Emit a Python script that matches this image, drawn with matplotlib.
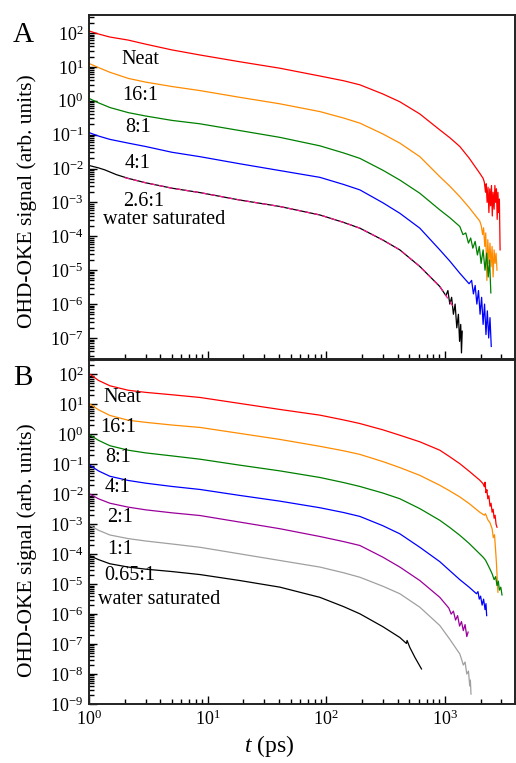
import numpy as np
import matplotlib
matplotlib.use("Agg")
import matplotlib.pyplot as plt
from matplotlib.ticker import LogLocator, NullFormatter

plt.rcParams['font.family'] = ['Liberation Serif', 'DejaVu Serif']
plt.rcParams['mathtext.fontset'] = 'custom'
plt.rcParams['mathtext.rm'] = 'Liberation Serif'
plt.rcParams['mathtext.it'] = 'Liberation Serif:italic'
plt.rcParams['mathtext.default'] = 'regular'

# ---------------- Panel A data (t in ps, log10 of signal) ----------------
A_neat_t = [1, 1.2, 1.5, 2.14, 3, 5, 8.61, 18.7, 40.6, 88.3, 140, 192, 300, 417, 615, 906, 1100, 1336, 1600, 1968, 2100,
            2150, 2200, 2230, 2270, 2310, 2350, 2390, 2430, 2470, 2510, 2550, 2600, 2640, 2680, 2720, 2760, 2800, 2840, 2880, 2920]
A_neat_y = [2.06, 1.97, 1.88, 1.79, 1.67, 1.50, 1.35, 1.15, 0.96, 0.73, 0.59, 0.47, 0.20, -0.03, -0.39, -0.86, -1.09, -1.35, -1.69, -2.14, -2.29,
            -2.4, -2.7, -2.45, -3.0, -2.55, -3.3, -2.6, -3.1, -2.5, -3.4, -2.7, -3.2, -2.5, -3.0, -2.6, -3.5, -2.7, -3.3, -2.9, -4.4]

A_16_t = [1, 1.2, 1.5, 2.14, 3, 5, 8.61, 18.7, 40.6, 88.3, 140, 192, 300, 417, 615, 906, 1100, 1336, 1600, 1968,
          2030, 2080, 2120, 2170, 2210, 2260, 2300, 2350, 2400, 2450, 2500, 2550, 2600, 2650, 2700, 2750]
A_16_y = [1.10, 0.98, 0.84, 0.66, 0.55, 0.42, 0.30, 0.10, -0.09, -0.32, -0.51, -0.66, -0.98, -1.25, -1.65, -2.24, -2.52, -2.83, -3.15, -3.55,
          -3.7, -3.95, -3.75, -4.3, -3.9, -5.3, -4.1, -4.8, -4.2, -4.9, -4.3, -5.2, -4.4, -4.8, -4.5, -5.0]

A_8_t = [1, 1.2, 1.5, 2.14, 3, 5, 8.61, 18.7, 40.6, 88.3, 140, 192, 300, 417, 615, 906, 1100, 1336,
         1420, 1500, 1580, 1650, 1720, 1800, 1880, 1950, 2020, 2100, 2180, 2250, 2320, 2380, 2440]
A_8_y = [0.07, -0.06, -0.20, -0.35, -0.45, -0.58, -0.68, -0.88, -1.08, -1.33, -1.54, -1.70, -2.05, -2.34, -2.73, -3.22, -3.45, -3.71,
         -3.95, -3.9, -4.2, -4.05, -4.35, -4.15, -4.55, -4.3, -4.8, -4.4, -5.0, -4.5, -5.2, -4.7, -5.67]

A_4_t = [1, 1.2, 1.5, 2.14, 3, 5, 8.61, 18.7, 40.6, 88.3, 140, 192, 300, 417, 615, 906, 1100, 1336, 1600,
         1680, 1740, 1800, 1860, 1920, 1980, 2040, 2100, 2160, 2220, 2280, 2340, 2400, 2460]
A_4_y = [-0.94, -1.04, -1.14, -1.25, -1.35, -1.52, -1.65, -1.86, -2.06, -2.26, -2.47, -2.63, -3.01, -3.32, -3.76, -4.40, -4.73, -5.09, -5.40,
         -5.3, -5.7, -5.45, -6.0, -5.6, -6.3, -5.8, -6.6, -6.0, -6.9, -6.2, -7.0, -6.4, -7.25]

A_26_t = [1, 1.2, 1.36, 1.7, 2.14, 3, 5, 8.61, 18.7, 40.6, 88.3, 140, 192, 300, 417, 615, 906, 1020,
          1060, 1100, 1140, 1180, 1220, 1260, 1300, 1330, 1360, 1380, 1400]
A_26_y = [-1.91, -1.98, -2.04, -2.18, -2.29, -2.42, -2.58, -2.71, -2.93, -3.12, -3.37, -3.59, -3.76, -4.11, -4.40, -4.89, -5.48, -5.75,
          -5.6, -6.0, -5.8, -6.3, -6.0, -6.7, -6.3, -7.1, -6.6, -7.44, -6.8]

A_fit_t = [2.0, 3, 5, 8.61, 18.7, 40.6, 88.3, 140, 192, 300, 417, 615, 906, 1173]
A_fit_y = [-2.27, -2.42, -2.58, -2.71, -2.93, -3.12, -3.37, -3.59, -3.76, -4.11, -4.40, -4.89, -5.48, -6.07]

# ---------------- Panel B data ----------------
B_neat_t = [1, 1.2, 1.5, 2.14, 3, 5, 8.61, 18.7, 40.6, 88.3, 140, 192, 300, 417, 615, 906, 1100, 1336, 1600, 1968, 2100,
            2150, 2180, 2220, 2260, 2300, 2350, 2400, 2450, 2500, 2550, 2600, 2650, 2700, 2750]
B_neat_y = [2.03, 1.80, 1.62, 1.47, 1.40, 1.32, 1.23, 1.03, 0.83, 0.64, 0.48, 0.36, 0.15, -0.03, -0.25, -0.53, -0.75, -0.98, -1.23, -1.53, -1.65,
            -1.75, -1.6, -1.95, -1.85, -2.15, -2.05, -2.4, -2.3, -2.6, -2.5, -2.8, -2.7, -3.0, -3.1]

B_16_t = [1, 1.2, 1.5, 2.14, 3, 5, 8.61, 18.7, 40.6, 88.3, 140, 192, 300, 417, 615, 906, 1100, 1336, 1600, 1968,
          2150, 2200, 2300, 2400, 2500, 2560, 2620, 2680, 2720, 2760, 2800]
B_16_y = [1.03, 0.82, 0.63, 0.47, 0.40, 0.31, 0.23, 0.03, -0.17, -0.40, -0.55, -0.67, -0.91, -1.11, -1.37, -1.70, -1.89, -2.09, -2.31, -2.60,
          -2.7, -2.65, -2.85, -2.95, -3.15, -3.45, -3.35, -3.9, -4.3, -4.8, -5.27]

B_8_t = [1, 1.2, 1.5, 2.14, 3, 5, 8.61, 18.7, 40.6, 88.3, 140, 192, 300, 417, 615, 906, 1100, 1336, 1600, 1968, 2100,
         2200, 2300, 2400, 2500, 2600, 2680, 2750, 2820, 2880, 2960, 3030]
B_8_y = [0.00, -0.20, -0.38, -0.53, -0.62, -0.72, -0.83, -1.03, -1.22, -1.44, -1.61, -1.74, -1.96, -2.15, -2.48, -2.87, -3.11, -3.37, -3.64, -3.99, -4.10,
         -4.2, -4.35, -4.5, -4.65, -4.85, -4.75, -5.05, -4.9, -5.2, -5.1, -5.36]

B_4_t = [1, 1.2, 1.5, 2.14, 3, 5, 8.61, 18.7, 40.6, 88.3, 140, 192, 300, 417, 615, 906, 1100, 1336, 1600, 1846,
         1900, 1950, 2000, 2060, 2120, 2180, 2220, 2250]
B_4_y = [-1.01, -1.22, -1.40, -1.54, -1.63, -1.74, -1.84, -2.04, -2.23, -2.45, -2.61, -2.74, -3.05, -3.32, -3.77, -4.25, -4.55, -4.85, -5.10, -5.32,
         -5.25, -5.5, -5.4, -5.7, -5.5, -5.85, -5.65, -6.05]

B_2_t = [1, 1.2, 1.5, 2.14, 3, 5, 8.61, 18.7, 40.6, 88.3, 140, 192, 300, 417, 615, 906, 1080,
         1130, 1180, 1230, 1280, 1330, 1380, 1430, 1480, 1530, 1570]
B_2_y = [-1.98, -2.15, -2.30, -2.43, -2.52, -2.62, -2.71, -2.93, -3.15, -3.41, -3.58, -3.71, -4.10, -4.43, -4.88, -5.44, -5.80,
         -6.0, -5.9, -6.2, -6.05, -6.4, -6.25, -6.55, -6.35, -6.75, -6.6]

B_1_t = [1, 1.2, 1.5, 2.14, 3, 5, 8.61, 18.7, 40.6, 88.3, 140, 192, 300, 417, 615, 906, 1100, 1336,
         1380, 1430, 1480, 1530, 1580, 1620, 1640, 1660]
B_1_y = [-3.02, -3.20, -3.36, -3.48, -3.56, -3.66, -3.77, -3.99, -4.21, -4.43, -4.62, -4.77, -5.07, -5.32, -5.77, -6.38, -6.84, -7.33,
         -7.5, -7.7, -7.6, -8.0, -7.9, -8.4, -8.2, -8.67]

B_065_t = [1, 1.2, 1.5, 2.14, 3, 5, 8.61, 18.7, 40.6, 88.3, 140, 192, 300, 417, 474, 480, 506, 560, 635]
B_065_y = [-4.04, -4.18, -4.32, -4.43, -4.50, -4.58, -4.68, -4.88, -5.10, -5.44, -5.75, -5.99, -6.42, -6.78, -6.98, -6.88, -7.11, -7.45, -7.83]

A_labels = ["Neat", "16:1", "8:1", "4:1", "2.6:1", "water saturated"]
B_labels = ["Neat", "16:1", "8:1", "4:1", "2:1", "1:1", "0.65:1", "water saturated"]

C_RED, C_ORG, C_GRN, C_BLU, C_BLK = '#ff0000', '#ff8c00', '#008000', '#0000ff', '#000000'
C_PINK, C_PUR, C_GRY = '#ff1493', '#9b009b', '#a0a0a0'

W, H = 516, 763
fig = plt.figure(figsize=(W / 100, H / 100), dpi=100)

def px_axes(x0, y0, x1, y1):
    return fig.add_axes([x0 / W, 1 - y1 / H, (x1 - x0) / W, (y1 - y0) / H])

axA = px_axes(89, 15, 515, 359)
axB = px_axes(89, 360, 515, 704)

def P(ax, t, y, c, **kw):
    ax.plot(t, 10 ** np.asarray(y), color=c, lw=0.9, **kw)

P(axA, A_neat_t, A_neat_y, C_RED)
P(axA, A_16_t, A_16_y, C_ORG)
P(axA, A_8_t, A_8_y, C_GRN)
P(axA, A_4_t, A_4_y, C_BLU)
P(axA, A_26_t, A_26_y, C_BLK)
P(axA, A_fit_t, A_fit_y, C_PINK, ls=(0, (4, 3)))

P(axB, B_neat_t, B_neat_y, C_RED)
P(axB, B_16_t, B_16_y, C_ORG)
P(axB, B_8_t, B_8_y, C_GRN)
P(axB, B_4_t, B_4_y, C_BLU)
P(axB, B_2_t, B_2_y, C_PUR)
P(axB, B_1_t, B_1_y, C_GRY)
P(axB, B_065_t, B_065_y, C_BLK)

for ax in (axA, axB):
    ax.set_xscale('log')
    ax.set_yscale('log')
    ax.set_xlim(1, 3900)
    ax.tick_params(which='both', direction='in', top=False, right=False, labelsize=13, width=1, colors='black', pad=4)
    ax.tick_params(which='major', length=6)
    ax.tick_params(which='minor', length=3.5)
    ax.xaxis.set_minor_locator(LogLocator(base=10, subs=np.arange(2, 10), numticks=20))
    ax.yaxis.set_minor_locator(LogLocator(base=10, subs=np.arange(2, 10), numticks=30))
    ax.yaxis.set_minor_formatter(NullFormatter())
    ax.xaxis.set_minor_formatter(NullFormatter())
    for s in ax.spines.values():
        s.set_linewidth(1.4)
        s.set_color('#222222')

axA.set_ylim(10 ** -7.62, 10 ** 2.53)
axA.set_yticks([10.0 ** k for k in range(-7, 3)])
axA.tick_params(axis='x', labelbottom=False)

axB.set_ylim(10 ** -9.0, 10 ** 2.48)
axB.set_yticks([10.0 ** k for k in range(-9, 3)])
axB.set_xticks([1, 10, 100, 1000])

fs = 14.5
def lab(x, y, s):
    fig.text(x / W, 1 - y / H, s, ha='center', va='center', fontsize=fs)

for (x, y), s in zip([(140, 59), (140, 95), (138, 128), (138, 163), (144, 201), (164, 220)], A_labels):
    lab(x, y, s)
for (x, y), s in zip([(122, 397), (118, 427), (118, 457), (118, 487), (120, 517), (120, 550), (130, 575), (159, 600)], B_labels):
    lab(x, y, s)

fig.text(23 / W, 1 - 35 / H, 'A', fontsize=21, ha='center', va='center')
fig.text(23 / W, 1 - 378 / H, 'B', fontsize=21, ha='center', va='center')
fig.text(27 / W, 1 - 201 / H, 'OHD-OKE signal (arb. units)', rotation=90, fontsize=15.5, ha='center', va='center')
fig.text(27 / W, 1 - 550 / H, 'OHD-OKE signal (arb. units)', rotation=90, fontsize=15.5, ha='center', va='center')
fig.text(269 / W, 1 - 746 / H, r'$\mathit{t}$ (ps)', fontsize=17, ha='center', va='center')

fig.savefig('out.png', dpi=100)
